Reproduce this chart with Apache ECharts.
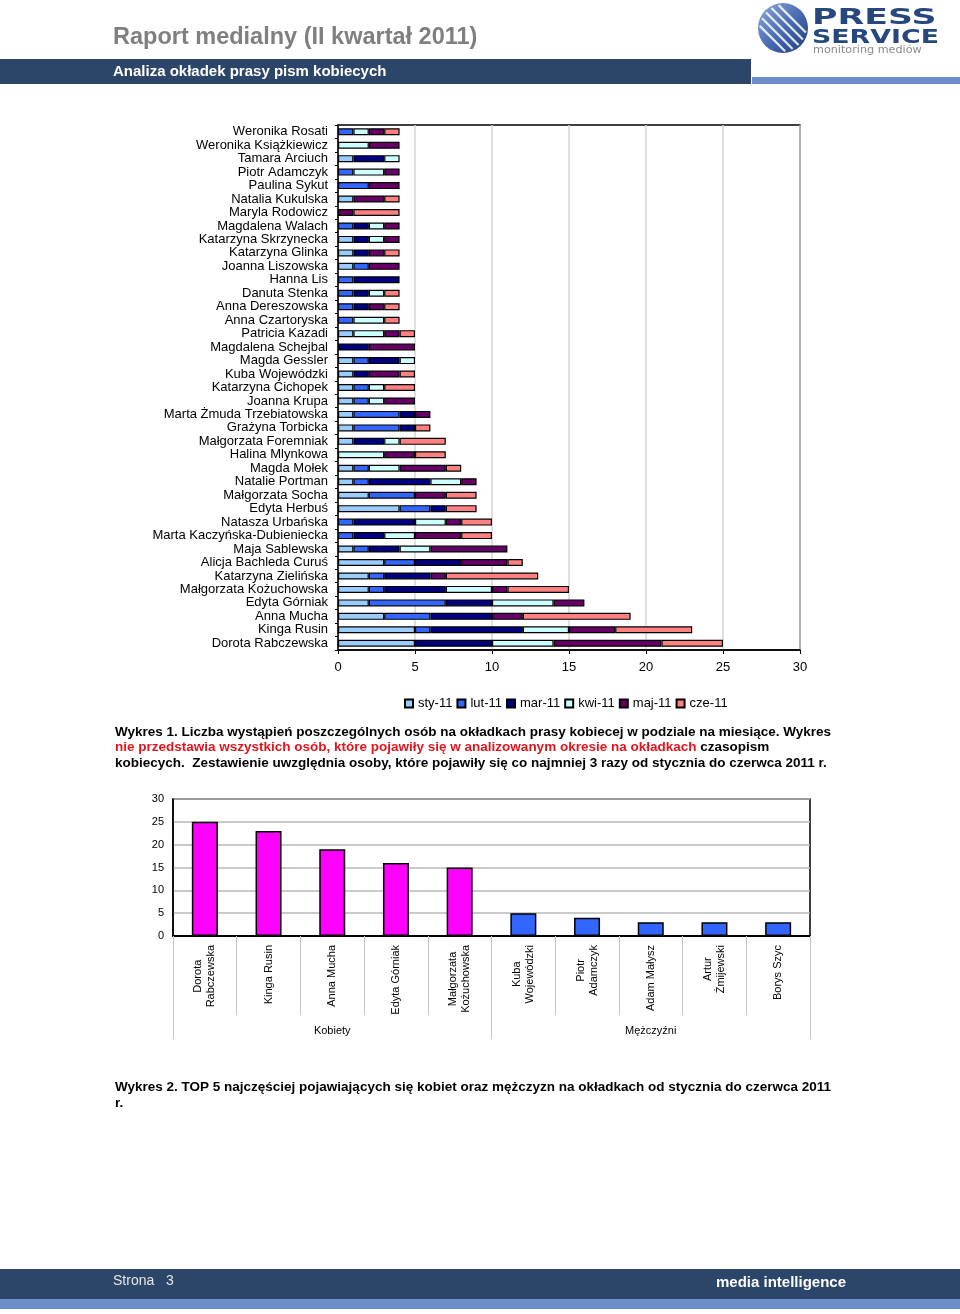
<!DOCTYPE html>
<html>
<head>
<meta charset="utf-8">
<script src="https://cdn.jsdelivr.net/npm/echarts@6/dist/echarts.min.js"></script>
<style>
html,body{margin:0;padding:0;background:#fff;}
#page{width:960px;height:1314px;}
</style>
</head>
<body>
<div id="page"></div>
<script>
// ---------- DATA ----------
const people = ['Weronika Rosati','Weronika Książkiewicz','Tamara Arciuch','Piotr Adamczyk','Paulina Sykut','Natalia Kukulska','Maryla Rodowicz','Magdalena Walach','Katarzyna Skrzynecka','Katarzyna Glinka','Joanna Liszowska','Hanna Lis','Danuta Stenka','Anna Dereszowska','Anna Czartoryska','Patricia Kazadi','Magdalena Schejbal','Magda Gessler','Kuba Wojewódzki','Katarzyna Cichopek','Joanna Krupa','Marta Żmuda Trzebiatowska','Grażyna Torbicka','Małgorzata Foremniak','Halina Mlynkowa','Magda Mołek','Natalie Portman','Małgorzata Socha','Edyta Herbuś','Natasza Urbańska','Marta Kaczyńska-Dubieniecka','Maja Sablewska','Alicja Bachleda Curuś','Katarzyna Zielińska','Małgorzata Kożuchowska','Edyta Górniak','Anna Mucha','Kinga Rusin','Dorota Rabczewska'];
const months = ['sty-11','lut-11','mar-11','kwi-11','maj-11','cze-11'];
const sty = [0,0,1,0,0,1,0,0,1,1,1,0,0,0,0,1,0,1,1,1,1,1,1,1,0,1,1,2,4,0,0,1,3,2,2,2,3,5,5];
const lut = [1,0,0,1,2,0,0,1,0,0,1,1,1,1,1,0,0,1,0,1,1,3,3,0,0,1,1,3,2,1,1,1,2,1,1,5,3,1,0];
const mar = [0,0,2,0,0,0,0,1,1,1,0,3,1,1,0,0,2,2,1,0,0,1,1,2,0,0,4,0,1,4,2,2,3,3,4,3,4,6,5];
const kwi = [1,2,1,2,0,0,0,1,1,0,0,0,1,0,2,2,0,1,0,1,1,0,0,1,3,2,2,0,0,2,2,2,0,0,3,4,0,3,4];
const maj = [1,2,0,1,2,2,1,1,1,1,2,0,0,1,0,1,3,0,2,0,2,1,0,0,2,3,1,2,0,1,3,5,3,1,1,2,2,3,7];
const cze = [1,0,0,0,0,1,3,0,0,1,0,0,1,1,1,1,0,0,1,2,0,0,1,3,2,1,0,2,2,2,2,0,1,6,4,0,7,5,4];
const xTicks1 = [0,5,10,15,20,25,30];

const topNames = ['Dorota\nRabczewska','Kinga Rusin','Anna Mucha','Edyta Górniak','Małgorzata\nKożuchowska','Kuba\nWojewódzki','Piotr\nAdamczyk','Adam Małysz','Artur\nŻmijewski','Borys Szyc'];
const topValues = [25,23,19,16,15,5,4,3,3,3];
const topSex = ['K','K','K','K','K','M','M','M','M','M'];
const groups = ['Kobiety','Mężczyźni'];
const yTicks2 = [0,5,10,15,20,25,30];

// ---------- STYLE ----------
const monthColors = ['#99ccff','#3366ff','#000080','#ccffff','#660066','#ff8080'];
const F = 'Liberation Sans, Arial, sans-serif';
const monthData = [sty,lut,mar,kwi,maj,cze];

const chart = echarts.init(document.getElementById('page'), null, {renderer:'canvas', width:960, height:1314});

// logo stripes
const cx = 783, cy = 28, R = 25;
const stripes = [-15,-8,-1,6,13].map(function(o){
  const h = Math.sqrt(R*R - o*o) - 2;
  const nx = 1/Math.SQRT2, ny = -1/Math.SQRT2;
  const dx = 1/Math.SQRT2, dy = 1/Math.SQRT2;
  const px = cx + nx*o, py = cy + ny*o;
  return {type:'line', silent:true, shape:{x1:px-dx*h, y1:py-dy*h, x2:px+dx*h, y2:py+dy*h}, style:{stroke:'rgba(255,255,255,0.85)', lineWidth:2.2}};
});

const capFont = 'bold 13.5px ' + F;
function vm(s){ s.verticalAlign='middle'; s.textVerticalAlign='middle'; return s; }

const option = {
  animation:false,
  backgroundColor:'#fff',
  textStyle:{fontFamily:F},
  graphic:[
    // header
    {type:'text', x:113, y:38, style:vm({text:'Raport medialny (II kwartał 2011)', font:'bold 23.5px '+F, fill:'#7f7f7f'})},
    {type:'rect', shape:{x:0,y:59,width:751,height:25}, style:{fill:'#2b4669'}},
    {type:'rect', shape:{x:752,y:77,width:208,height:7}, style:{fill:'#6c8fcc'}},
    {type:'text', x:113, y:71.5, style:vm({text:'Analiza okładek prasy pism kobiecych', font:'bold 15px '+F, fill:'#ffffff'})},
    // logo
    {type:'circle', shape:{cx:cx, cy:cy, r:R}, style:{fill:new echarts.graphic.LinearGradient(0,0,1,1,[{offset:0,color:'#8fa9dc'},{offset:0.5,color:'#4a6db5'},{offset:1,color:'#1c3a78'}])}},
  ].concat(stripes).concat([
    {type:'text', x:812, y:18.5, scaleX:1.58, style:vm({text:'PRESS', font:'bold 22px DejaVu Sans, sans-serif', fill:'#27487f'})},
    {type:'text', x:812, y:38, scaleX:1.34, style:vm({text:'SERVICE', font:'bold 20px DejaVu Sans, sans-serif', fill:'#27487f'})},
    {type:'text', x:813, y:50.5, scaleX:1.12, style:vm({text:'monitoring mediów', font:'10px DejaVu Sans, sans-serif', fill:'#8c8c8c'})},
    // caption 1
    {type:'text', x:115, y:732, style:vm({text:'Wykres 1. Liczba wystąpień poszczególnych osób na okładkach prasy kobiecej w podziale na miesiące. Wykres', font:capFont, fill:'#000'})},
    {type:'text', x:115, y:747.5, style:vm({text:'{r|nie przedstawia wszystkich osób, które pojawiły się w analizowanym okresie na okładkach}{b| czasopism}', font:capFont, fill:'#000',
      rich:{r:{fill:'#e3151c', color:'#e3151c', font:capFont}, b:{fill:'#000', color:'#000', font:capFont}}})},
    {type:'text', x:115, y:763, style:vm({text:'kobiecych.  Zestawienie uwzględnia osoby, które pojawiły się co najmniej 3 razy od stycznia do czerwca 2011 r.', font:capFont, fill:'#000'})},
    // caption 2
    {type:'text', x:115, y:1087, style:vm({text:'Wykres 2. TOP 5 najczęściej pojawiających się kobiet oraz mężczyzn na okładkach od stycznia do czerwca 2011', font:capFont, fill:'#000'})},
    {type:'text', x:115, y:1103, style:vm({text:'r.', font:capFont, fill:'#000'})},
    // footer
    {type:'rect', shape:{x:0,y:1269,width:960,height:30}, style:{fill:'#2b4669'}},
    {type:'rect', shape:{x:0,y:1299,width:960,height:10}, style:{fill:'#6c8fcc'}},
    {type:'text', x:113, y:1281, style:vm({text:'Strona   3', font:'14px '+F, fill:'#e6e6e6'})},
    {type:'text', x:716, y:1283, style:vm({text:'media intelligence', font:'bold 15px '+F, fill:'#ffffff'})}
  ]),
  legend:{
    data:months, left:404, top:697, padding:0, itemWidth:8, itemHeight:8, itemGap:4, icon:'rect',
    textStyle:{fontSize:13, color:'#000', fontFamily:F}
  },
  grid:[
    {left:338, top:125, width:462, height:525, show:true, borderColor:'#000', borderWidth:1.5, backgroundColor:'transparent'},
    {left:173, top:799, width:637, height:137, show:true, borderColor:'#000', borderWidth:1.5, backgroundColor:'transparent'}
  ],
  xAxis:[
    {type:'value', gridIndex:0, min:xTicks1[0], max:xTicks1[xTicks1.length-1], interval:xTicks1[1]-xTicks1[0],
      axisLine:{show:true, lineStyle:{color:'#000', width:1.5}},
      axisTick:{show:true, length:4, lineStyle:{color:'#000'}},
      axisLabel:{fontSize:13, color:'#000', margin:11, fontFamily:F},
      splitLine:{show:true, lineStyle:{color:'#d6d6d6', width:1.5}}},
    {type:'category', gridIndex:1, data:topNames,
      axisLine:{show:true, lineStyle:{color:'#000', width:2}},
      axisTick:{show:true, interval:0, length:79, lineStyle:{color:'#c4c4c4', width:1}},
      axisLabel:{interval:0, rotate:90, margin:9, color:'#000', fontSize:11, fontFamily:F,
        formatter:function(v){ return v.split('\n').map(function(s){return '{c|'+s+'}';}).join('\n'); },
        rich:{c:{align:'center', fontSize:11, color:'#000', fontFamily:F, lineHeight:13}}}},
    {type:'category', gridIndex:1, data:groups, position:'bottom', offset:79,
      axisLine:{show:false},
      axisTick:{show:true, interval:0, length:24, lineStyle:{color:'#c4c4c4', width:1}},
      axisLabel:{interval:0, margin:10, color:'#000', fontSize:11, fontFamily:F}}
  ],
  yAxis:[
    {type:'category', gridIndex:0, data:people, inverse:true,
      axisLine:{show:true, lineStyle:{color:'#000', width:1.5}},
      axisTick:{show:true, length:3, lineStyle:{color:'#000'}},
      axisLabel:{fontSize:13, color:'#000', margin:10, fontFamily:F, interval:0}},
    {type:'value', gridIndex:1, min:yTicks2[0], max:yTicks2[yTicks2.length-1], interval:yTicks2[1]-yTicks2[0],
      axisLine:{show:true, lineStyle:{color:'#000', width:1.5}},
      axisTick:{show:false},
      axisLabel:{fontSize:11, color:'#000', margin:9, fontFamily:F},
      splitLine:{show:true, lineStyle:{color:'#b8b8b8', width:1.5}}}
  ],
  series: months.map(function(m,i){
    return {name:m, type:'bar', stack:'m', xAxisIndex:0, yAxisIndex:0, barWidth:7,
      itemStyle:{color:monthColors[i], borderColor:'#000', borderWidth:1.2},
      data: monthData[i].map(function(v){ return v === 0 ? '-' : v; })};
  }).concat([{
    name:'top', type:'bar', xAxisIndex:1, yAxisIndex:1, barWidth:26,
    itemStyle:{borderColor:'#000', borderWidth:1.5,
      color:function(p){ return topSex[p.dataIndex] === 'K' ? '#ff00ff' : '#3366ff'; }},
    data: topValues
  }])
};
chart.setOption(option);
</script>
</body>
</html>
